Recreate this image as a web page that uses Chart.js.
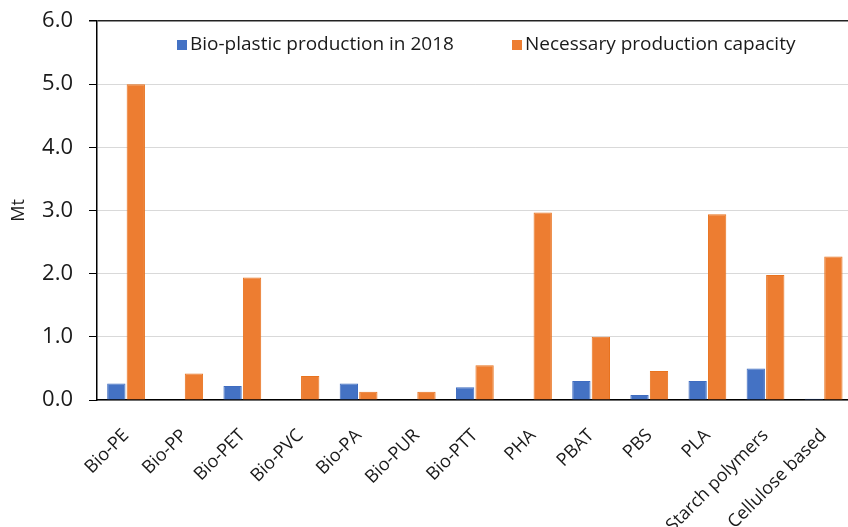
<!DOCTYPE html>
<html>
<head>
<meta charset="utf-8">
<script src="https://cdn.jsdelivr.net/npm/chart.js@4/dist/chart.umd.min.js"></script>
<style>
  html, body { margin: 0; padding: 0; background: #fff; overflow: hidden; }
  #wrap { width: 856px; height: 527px; }
</style>
</head>
<body>
<div id="wrap"><canvas id="bioChart"></canvas></div>
<script>
// categories and values (Mt)
const categories = ["Bio-PE", "Bio-PP", "Bio-PET", "Bio-PVC", "Bio-PA", "Bio-PUR", "Bio-PTT",
  "PHA", "PBAT", "PBS", "PLA", "Starch polymers", "Cellulose based"];
const production2018 = [0.26, 0, 0.22, 0, 0.26, 0, 0.20, 0, 0.30, 0.08, 0.30, 0.50, 0.02];
const necessaryCapacity = [5.0, 0.42, 1.94, 0.38, 0.13, 0.13, 0.55, 2.97, 1.0, 0.46, 2.94, 1.98, 2.27];
const seriesNames = ["Bio-plastic production in 2018", "Necessary production capacity"];

const FONT = "'Open Sans', 'Noto Sans', sans-serif";

// legend drawn inside the plot area, under the top line
const insideLegend = {
  id: "insideLegend",
  afterDraw(chart) {
    const ctx = chart.ctx;
    const y = 45;
    const starts = [177, 512];
    ctx.save();
    ctx.font = "19px " + FONT;
    ctx.textBaseline = "middle";
    chart.data.datasets.forEach((ds, i) => {
      ctx.fillStyle = ds.backgroundColor;
      ctx.fillRect(starts[i], y - 5, 10, 10);
      ctx.fillStyle = "#1a1a1a";
      ctx.fillText(ds.label, starts[i] + 13, y);
    });
    ctx.restore();
  },
};

new Chart(document.getElementById("bioChart"), {
  type: "bar",
  data: {
    labels: categories,
    datasets: [
      {
        label: seriesNames[0],
        data: production2018,
        backgroundColor: "#4472C4",
        borderColor: "#3f6cc0",
        borderWidth: 1,
      },
      {
        label: seriesNames[1],
        data: necessaryCapacity,
        backgroundColor: "#ED7D31",
        borderColor: "#e8731f",
        borderWidth: 1,
      },
    ],
  },
  options: {
    responsive: true,
    maintainAspectRatio: false,
    animation: false,
    layout: { padding: { top: 21, right: 2, left: 0, bottom: 0 } },
    datasets: { bar: { categoryPercentage: 0.67, barPercentage: 0.94 } },
    plugins: {
      legend: { display: false },
      tooltip: { enabled: false },
    },
    scales: {
      x: {
        grid: { display: false },
        border: { display: true, color: "#000", width: 1.5 },
        ticks: {
          minRotation: 45,
          maxRotation: 45,
          padding: 17,
          color: "#1a1a1a",
          font: { family: FONT, size: 18 },
        },
        afterFit(scale) { scale.height = 127; },
      },
      y: {
        min: 0,
        max: 6,
        ticks: {
          stepSize: 1,
          padding: 16,
          color: "#1a1a1a",
          font: { family: FONT, size: 22 },
          callback: (v) => Number(v).toFixed(1),
        },
        grid: {
          color: (c) => (c.tick && c.tick.value === 6 ? "#222" : "#d9d9d9"),
          lineWidth: (c) => (c.tick && c.tick.value === 6 ? 1.5 : 1),
          tickColor: "#000",
          tickLength: 8,
        },
        border: { display: true, color: "#000", width: 1.5 },
        title: {
          display: true,
          text: "Mt",
          color: "#1a1a1a",
          font: { family: FONT, size: 18 },
          padding: { top: 8, bottom: 0 },
        },
        afterFit(scale) {
          scale.width = 97;
          scale.paddingTop = 0;
          scale.paddingBottom = 0;
        },
      },
    },
  },
  plugins: [insideLegend],
});
</script>
</body>
</html>
